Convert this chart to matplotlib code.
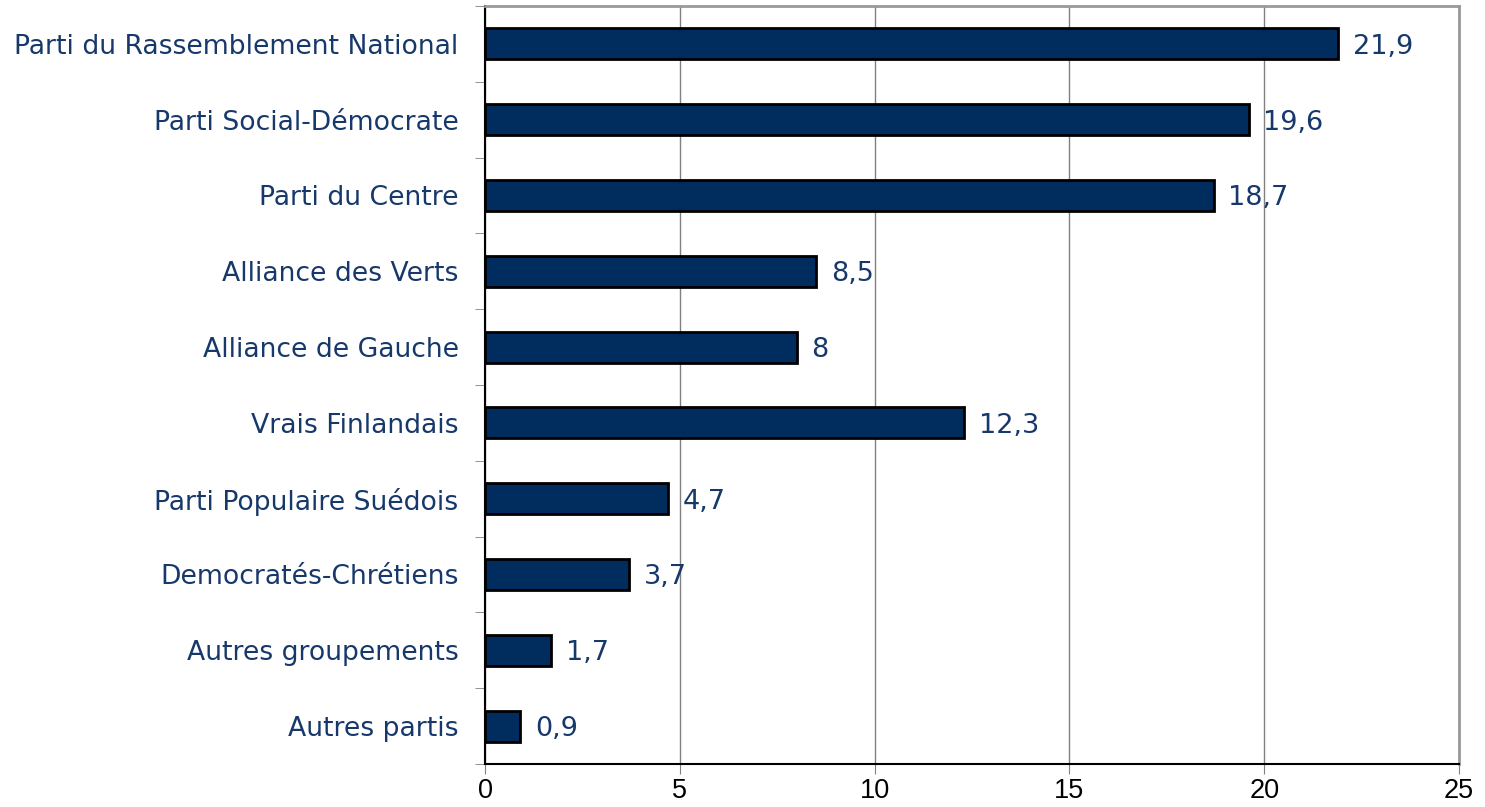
import numpy as np
import matplotlib.pyplot as plt
from matplotlib.ticker import FixedLocator

parties = ["Parti du Rassemblement National", "Parti Social-Démocrate", "Parti du Centre",
           "Alliance des Verts", "Alliance de Gauche", "Vrais Finlandais",
           "Parti Populaire Suédois", "Democratés-Chrétiens", "Autres groupements",
           "Autres partis"]
values = [21.9, 19.6, 18.7, 8.5, 8, 12.3, 4.7, 3.7, 1.7, 0.9]
labels = ["21,9", "19,6", "18,7", "8,5", "8", "12,3", "4,7", "3,7", "1,7", "0,9"]

navy = "#002D5E"
textc = "#16386A"

fig = plt.figure(figsize=(14.85, 8.07), dpi=100)
ax = fig.add_axes([0.3266, 0.0533, 0.9825 - 0.3266, 0.9926 - 0.0533])

y = np.arange(len(parties))[::-1]
ax.barh(y, values, height=0.41, color=navy, edgecolor="black", linewidth=2, zorder=3)

# value labels right of each bar
for yi, v, lab in zip(y, values, labels):
    ax.text(v + 0.38, yi, lab, va="center_baseline", ha="left", fontsize=19.5, color=textc)

ax.set_xlim(0, 25)
ax.set_ylim(-0.5, len(parties) - 0.5)
ax.set_yticks(y)
ax.set_yticklabels(parties, fontsize=19.2, color=textc)
ax.tick_params(axis="y", which="major", length=0, pad=19)
ax.yaxis.set_minor_locator(FixedLocator(np.arange(-0.5, len(parties), 1)))
ax.tick_params(axis="y", which="minor", length=7, color="#808080")

ax.set_xticks([0, 5, 10, 15, 20, 25])
ax.set_xticklabels(["0", "5", "10", "15", "20", "25"], fontsize=19.5,
                   color="black", family="Liberation Sans")
ax.tick_params(axis="x", length=7, color="#808080", pad=3)

ax.grid(axis="x", color="#808080", linewidth=1, zorder=0)
ax.spines["left"].set_color("black")
ax.spines["bottom"].set_color("black")
ax.spines["left"].set_linewidth(1.5)
ax.spines["bottom"].set_linewidth(1.5)
ax.spines["top"].set_color("#999999")
ax.spines["right"].set_color("#999999")
ax.spines["top"].set_linewidth(2)
ax.spines["right"].set_linewidth(2)

fig.savefig("out.png", dpi=100)
